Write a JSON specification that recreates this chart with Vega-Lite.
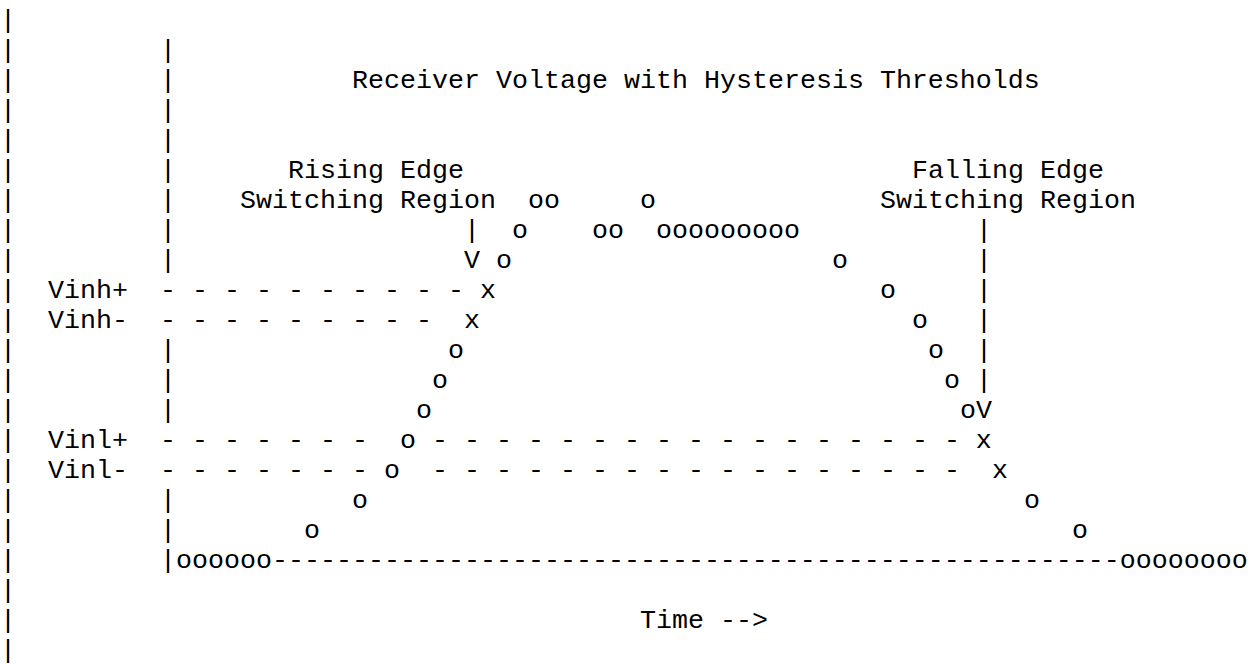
{
  "$schema": "https://vega.github.io/schema/vega-lite/v6.json",
  "width": 1257,
  "height": 664,
  "autosize": {"type": "fit", "contains": "padding"},
  "padding": 0,
  "background": "white",
  "config": {"view": {"stroke": null}},
  "data": {
    "values": [
      {"row": 0, "col": 0, "text": "|"},
      {"row": 1, "col": 0, "text": "|"}, {"row": 1, "col": 10, "text": "|"},
      {"row": 2, "col": 0, "text": "|"}, {"row": 2, "col": 10, "text": "|"},
      {"row": 2, "col": 22, "text": "Receiver Voltage with Hysteresis Thresholds"},
      {"row": 3, "col": 0, "text": "|"}, {"row": 3, "col": 10, "text": "|"},
      {"row": 4, "col": 0, "text": "|"}, {"row": 4, "col": 10, "text": "|"},
      {"row": 5, "col": 0, "text": "|"}, {"row": 5, "col": 10, "text": "|"},
      {"row": 5, "col": 18, "text": "Rising Edge"}, {"row": 5, "col": 57, "text": "Falling Edge"},
      {"row": 6, "col": 0, "text": "|"}, {"row": 6, "col": 10, "text": "|"},
      {"row": 6, "col": 15, "text": "Switching Region"}, {"row": 6, "col": 33, "text": "oo"},
      {"row": 6, "col": 40, "text": "o"}, {"row": 6, "col": 55, "text": "Switching Region"},
      {"row": 7, "col": 0, "text": "|"}, {"row": 7, "col": 10, "text": "|"},
      {"row": 7, "col": 29, "text": "|"}, {"row": 7, "col": 32, "text": "o"},
      {"row": 7, "col": 37, "text": "oo"}, {"row": 7, "col": 41, "text": "ooooooooo"},
      {"row": 7, "col": 61, "text": "|"},
      {"row": 8, "col": 0, "text": "|"}, {"row": 8, "col": 10, "text": "|"},
      {"row": 8, "col": 29, "text": "V o"}, {"row": 8, "col": 52, "text": "o"},
      {"row": 8, "col": 61, "text": "|"},
      {"row": 9, "col": 0, "text": "|"}, {"row": 9, "col": 3, "text": "Vinh+"},
      {"row": 9, "col": 10, "text": "- - - - - - - - - - x"},
      {"row": 9, "col": 55, "text": "o"}, {"row": 9, "col": 61, "text": "|"},
      {"row": 10, "col": 0, "text": "|"}, {"row": 10, "col": 3, "text": "Vinh-"},
      {"row": 10, "col": 10, "text": "- - - - - - - - -"}, {"row": 10, "col": 29, "text": "x"},
      {"row": 10, "col": 57, "text": "o"}, {"row": 10, "col": 61, "text": "|"},
      {"row": 11, "col": 0, "text": "|"}, {"row": 11, "col": 10, "text": "|"},
      {"row": 11, "col": 28, "text": "o"}, {"row": 11, "col": 58, "text": "o"},
      {"row": 11, "col": 61, "text": "|"},
      {"row": 12, "col": 0, "text": "|"}, {"row": 12, "col": 10, "text": "|"},
      {"row": 12, "col": 27, "text": "o"}, {"row": 12, "col": 59, "text": "o"},
      {"row": 12, "col": 61, "text": "|"},
      {"row": 13, "col": 0, "text": "|"}, {"row": 13, "col": 10, "text": "|"},
      {"row": 13, "col": 26, "text": "o"}, {"row": 13, "col": 60, "text": "oV"},
      {"row": 14, "col": 0, "text": "|"}, {"row": 14, "col": 3, "text": "Vinl+"},
      {"row": 14, "col": 10, "text": "- - - - - - -"},
      {"row": 14, "col": 25, "text": "o - - - - - - - - - - - - - - - - - x"},
      {"row": 15, "col": 0, "text": "|"}, {"row": 15, "col": 3, "text": "Vinl-"},
      {"row": 15, "col": 10, "text": "- - - - - - - o"},
      {"row": 15, "col": 27, "text": "- - - - - - - - - - - - - - - - -"},
      {"row": 15, "col": 62, "text": "x"},
      {"row": 16, "col": 0, "text": "|"}, {"row": 16, "col": 10, "text": "|"},
      {"row": 16, "col": 22, "text": "o"}, {"row": 16, "col": 64, "text": "o"},
      {"row": 17, "col": 0, "text": "|"}, {"row": 17, "col": 10, "text": "|"},
      {"row": 17, "col": 19, "text": "o"}, {"row": 17, "col": 67, "text": "o"},
      {"row": 18, "col": 0, "text": "|"},
      {"row": 18, "col": 10, "text": "|oooooo-----------------------------------------------------oooooooo"},
      {"row": 19, "col": 0, "text": "|"},
      {"row": 20, "col": 0, "text": "|"}, {"row": 20, "col": 40, "text": "Time -->"},
      {"row": 21, "col": 0, "text": "|"}
    ]
  },
  "mark": {
    "type": "text",
    "align": "left",
    "baseline": "alphabetic",
    "font": "Liberation Mono",
    "fontSize": 26.667,
    "color": "black"
  },
  "encoding": {
    "x": {"field": "col", "type": "quantitative", "scale": {"domain": [0, 78.5625], "nice": false, "zero": false}, "axis": null},
    "y": {"field": "row", "type": "quantitative", "scale": {"domain": [-0.9333, 21.2], "nice": false, "zero": false, "reverse": true}, "axis": null},
    "text": {"field": "text"}
  }
}
